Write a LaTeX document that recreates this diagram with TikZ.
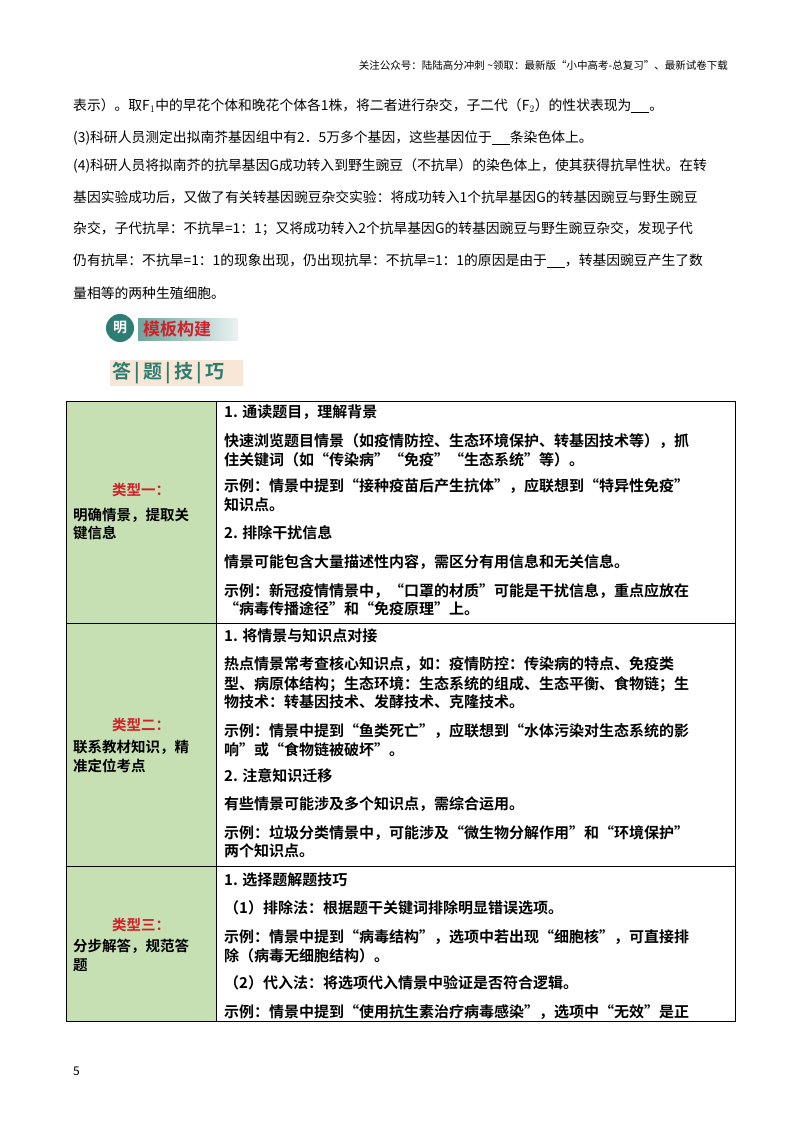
\documentclass[tikz,border=0pt]{standalone}
\usepackage{fontspec}
\setmainfont{Noto Sans CJK SC}
\newfontfamily\cjkb{Noto Sans CJK SC Bold}
\definecolor{gfill}{HTML}{C6E0B4}
\definecolor{teal1}{HTML}{2E7D73}
\definecolor{beige}{HTML}{F8E6D6}
\definecolor{redt}{HTML}{D0202A}
\begin{document}
\begin{tikzpicture}[x=1pt,y=-1pt,
  body/.style={anchor=west,inner sep=0pt,font=\fontsize{13.8}{14}\selectfont},
  cell/.style={anchor=west,inner sep=0pt,font=\cjkb\fontsize{15}{16}\selectfont},
  lbl/.style={anchor=west,inner sep=0pt,font=\cjkb\fontsize{14.5}{16}\selectfont},
  grid/.style={draw=black,line width=0.8pt}]
\useasboundingbox (0,0) rectangle (800,1132);
\node[anchor=east,inner sep=0pt,font=\fontsize{10.5}{12}\selectfont] (hd) at (728,65) {关注公众号：陆陆高分冲刺 \textasciitilde 领取：最新版“小中高考-总复习”、最新试卷下载};
% body
\node[body] (b1) at (73,106) {表示）。取F$_1$中的早花个体和晚花个体各1株，将二者进行杂交，子二代（F$_2$）的性状表现为\underline{\hspace{18pt}}。};
\node[body] (b2) at (73,138) {(3)科研人员测定出拟南芥基因组中有2．5万多个基因，这些基因位于\underline{\hspace{18pt}}条染色体上。};
\node[body] (b3) at (73,166) {(4)科研人员将拟南芥的抗旱基因G成功转入到野生豌豆（不抗旱）的染色体上，使其获得抗旱性状。在转};
\node[body] (b4) at (73,197) {基因实验成功后，又做了有关转基因豌豆杂交实验：将成功转入1个抗旱基因G的转基因豌豆与野生豌豆};
\node[body] (b5) at (73,229) {杂交，子代抗旱：不抗旱=1：1；又将成功转入2个抗旱基因G的转基因豌豆与野生豌豆杂交，发现子代};
\node[body] (b6) at (73,261) {仍有抗旱：不抗旱=1：1的现象出现，仍出现抗旱：不抗旱=1：1的原因是由于\underline{\hspace{18pt}}，转基因豌豆产生了数};
\node[body] (b7) at (73,293) {量相等的两种生殖细胞。};
% logo
\shade[left color=teal1!70,right color=teal1!10] (138,318) rectangle (238,340);
\node[circle,fill=teal1,minimum size=28pt,inner sep=0pt,text=white,font=\cjkb\fontsize{14}{14}\selectfont] (logo) at (120,328) {明};
\node[anchor=west,inner sep=0pt,text=redt,font=\cjkb\fontsize{17}{18}\selectfont] (mb) at (143,329) {模板构建};
\fill[beige] (110,360) rectangle (243,386);
\node[anchor=west,inner sep=0pt,text=teal1,font=\cjkb\fontsize{19}{20}\selectfont] (dt) at (112,373) {答\,|\,题\,|\,技\,|\,巧};
% table
\fill[gfill] (66,401) rectangle (216,1021);
\draw[grid] (66,401) rectangle (735,1021);
\draw[grid] (216,401) -- (216,1021);
\draw[grid] (66,623) -- (735,623);
\draw[grid] (66,866) -- (735,866);
% row1
\node[lbl,text=redt,anchor=center] (l1a) at (141,490) {类型一：};
\node[lbl] (l1b) at (73,515) {明确情景，提取关};
\node[lbl] (l1c) at (73,533) {键信息};
\node[cell] at (224,412) {1. 通读题目，理解背景};
\node[cell] at (224,441) {快速浏览题目情景（如疫情防控、生态环境保护、转基因技术等），抓};
\node[cell] at (224,460) {住关键词（如“传染病”“免疫”“生态系统”等）。};
\node[cell] at (224,486) {示例：情景中提到“接种疫苗后产生抗体”，应联想到“特异性免疫”};
\node[cell] at (224,505) {知识点。};
\node[cell] at (224,533) {2. 排除干扰信息};
\node[cell] at (224,562) {情景可能包含大量描述性内容，需区分有用信息和无关信息。};
\node[cell] at (224,591) {示例：新冠疫情情景中，“口罩的材质”可能是干扰信息，重点应放在};
\node[cell] at (224,609) {“病毒传播途径”和“免疫原理”上。};
% row2
\node[lbl,text=redt,anchor=center] at (141,725) {类型二：};
\node[lbl] at (73,747) {联系教材知识，精};
\node[lbl] at (73,766) {准定位考点};
\node[cell] at (224,636) {1. 将情景与知识点对接};
\node[cell] at (224,664) {热点情景常考查核心知识点，如：疫情防控：传染病的特点、免疫类};
\node[cell] at (224,684) {型、病原体结构；生态环境：生态系统的组成、生态平衡、食物链；生};
\node[cell] at (224,702) {物技术：转基因技术、发酵技术、克隆技术。};
\node[cell] at (224,731) {示例：情景中提到“鱼类死亡”，应联想到“水体污染对生态系统的影};
\node[cell] at (224,750) {响”或“食物链被破坏”。};
\node[cell] at (224,776) {2. 注意知识迁移};
\node[cell] at (224,804) {有些情景可能涉及多个知识点，需综合运用。};
\node[cell] at (224,833) {示例：垃圾分类情景中，可能涉及“微生物分解作用”和“环境保护”};
\node[cell] at (224,851) {两个知识点。};
% row3
\node[lbl,text=redt,anchor=center] at (141,925) {类型三：};
\node[lbl] at (73,946) {分步解答，规范答};
\node[lbl] at (73,965) {题};
\node[cell] at (224,880) {1. 选择题解题技巧};
\node[cell] at (224,908) {（1）排除法：根据题干关键词排除明显错误选项。};
\node[cell] at (224,937) {示例：情景中提到“病毒结构”，选项中若出现“细胞核”，可直接排};
\node[cell] at (224,956) {除（病毒无细胞结构）。};
\node[cell] at (224,983) {（2）代入法：将选项代入情景中验证是否符合逻辑。};
\begin{scope}
\clip (216,1000) rectangle (735,1021);
\node[cell] at (224,1012) {示例：情景中提到“使用抗生素治疗病毒感染”，选项中“无效”是正};
\end{scope}
\node[anchor=west,inner sep=0pt,font=\fontsize{12}{12}\selectfont] (pg) at (73,1071) {5};
\end{tikzpicture}
\end{document}
